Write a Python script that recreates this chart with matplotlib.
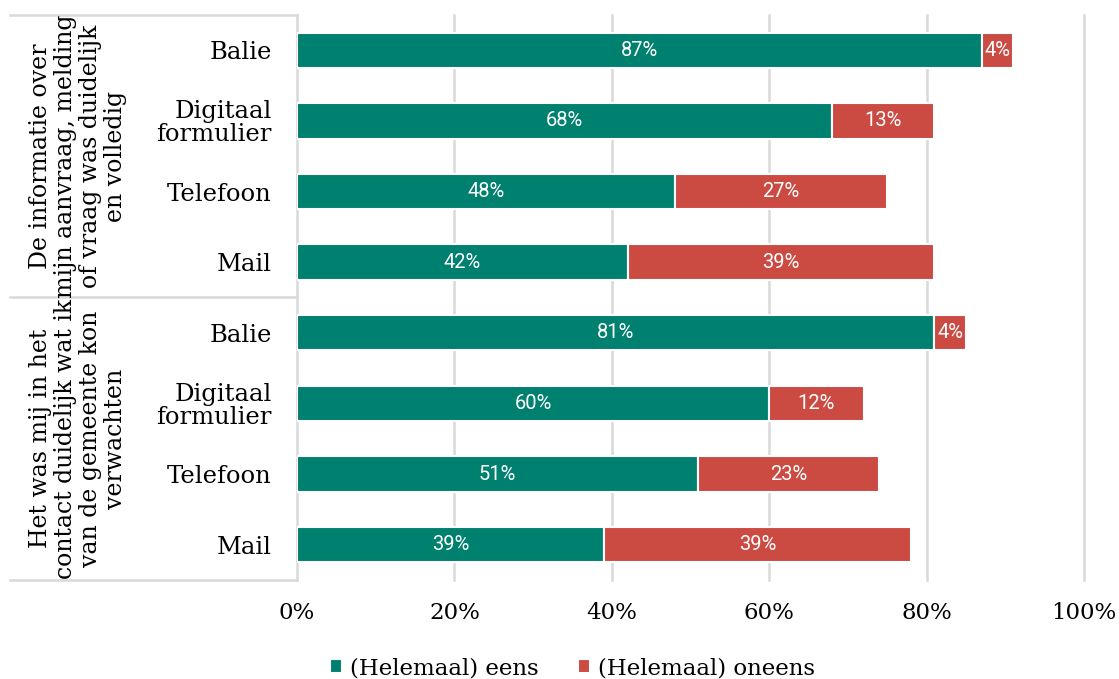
"""Horizontal stacked bars: agreement per contact channel"""
import matplotlib
matplotlib.use("Agg")
from matplotlib import pyplot as plt
from matplotlib import transforms

categories = ["Balie", "Digitaal\nformulier", "Telefoon", "Mail",
              "Balie", "Digitaal\nformulier", "Telefoon", "Mail"]
eens = [87, 68, 48, 42, 81, 60, 51, 39]
oneens = [4, 13, 27, 39, 4, 12, 23, 39]
groups = ["De informatie over\nmijn aanvraag, melding\nof vraag was duidelijk\nen volledig",
          "Het was mij in het\ncontact duidelijk wat ik\nvan de gemeente kon\nverwachten"]
series_names = ["(Helemaal) eens", "(Helemaal) oneens"]
ticks = [0, 20, 40, 60, 80, 100]

TEAL = "#00806F"
RED = "#CB4B43"
GRID = "#D9D9D9"
SERIF = "DejaVu Serif"


def main():
    """Draw the chart"""
    fig = plt.figure(figsize=(11.19, 6.79), dpi=100)
    ax = fig.add_axes([0.2654, 0.1458, 0.7033, 0.8322])

    ypos = list(range(len(categories)))
    ax.barh(ypos, eens, height=0.5, color=TEAL, edgecolor="white",
            linewidth=1.5, label=series_names[0], zorder=3)
    ax.barh(ypos, oneens, left=eens, height=0.5, color=RED,
            edgecolor="white", linewidth=1.5, label=series_names[1], zorder=3)

    for y, a, b in zip(ypos, eens, oneens):
        ax.text(a / 2, y, f"{a}%", color="white", ha="center", va="center",
                fontsize=14.5, family="Roboto", zorder=4)
        ax.text(a + b / 2, y, f"{b}%", color="white", ha="center",
                va="center", fontsize=14.5, family="Roboto", zorder=4)

    ax.set_xlim(0, 100)
    ax.set_ylim(len(categories) - 0.5, -0.5)
    ax.set_xticks(ticks)
    ax.set_xticklabels([f"{t}%" for t in ticks], family=SERIF, fontsize=16.5)
    ax.set_yticks(ypos)
    ax.set_yticklabels(categories, family=SERIF, fontsize=17.5,
                       linespacing=1.0)
    ax.tick_params(axis="both", length=0)
    ax.tick_params(axis="x", pad=16)
    ax.tick_params(axis="y", pad=18)
    for t in ax.get_yticklabels():
        t.set_horizontalalignment("right")

    for t in ticks[1:]:
        ax.axvline(t, color=GRID, linewidth=1.8, zorder=1, clip_on=False)
    for side in ["top", "right", "bottom"]:
        ax.spines[side].set_visible(False)
    ax.spines["left"].set_color(GRID)
    ax.spines["left"].set_linewidth(1.8)

    # group separators and labels on the left
    trans = transforms.blended_transform_factory(fig.transFigure, ax.transData)
    for yline in [-0.5, 3.5, 7.5]:
        ax.plot([10 / 1119, 0.2654], [yline, yline], color=GRID,
                linewidth=1.8, transform=trans, clip_on=False)
    for gi, label in enumerate(groups):
        ax.text(78 / 1119, 1.5 + 4 * gi, label, transform=trans,
                rotation=90, ha="center", va="center", family=SERIF,
                fontsize=17, linespacing=1.12, multialignment="center")

    ax.legend(loc="upper center", bbox_to_anchor=(0.5 - 0.15, -0.1),
              ncol=2, frameon=False, handlelength=0.55,
              handleheight=0.55, handletextpad=0.35, columnspacing=1.7,
              prop={"family": SERIF, "size": 16.5})
    fig.savefig("out.png", dpi=100)


if __name__ == '__main__':
    main()
